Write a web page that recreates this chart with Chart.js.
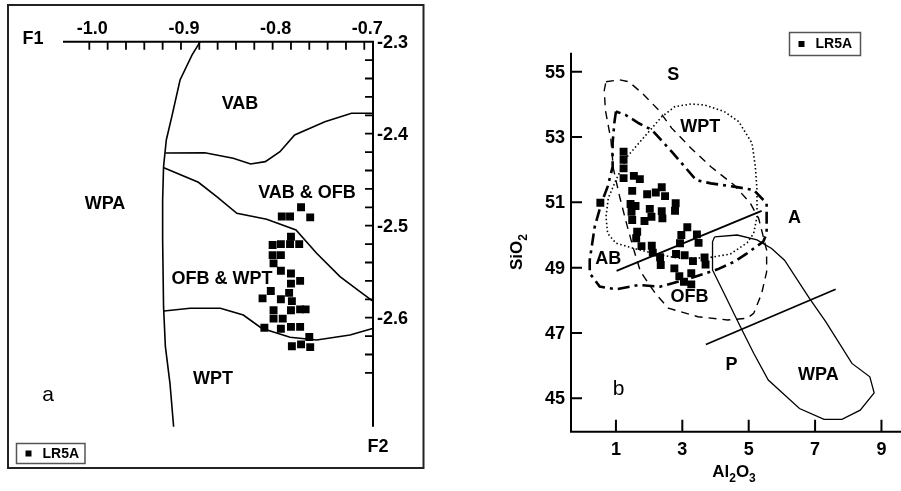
<!DOCTYPE html>
<html>
<head>
<meta charset="utf-8">
<title>LR5A discrimination diagrams</title>
<script src="https://cdn.jsdelivr.net/npm/chart.js@4.4.0/dist/chart.umd.min.js"></script>
<style>
  body { margin: 0; background: #fff; }
  #wrap { position: relative; width: 901px; height: 491px; overflow: hidden; }
  #panelA { position: absolute; left: 0; top: 0; }
  #panelB { position: absolute; left: 440px; top: 0; }
</style>
</head>
<body>
<div id="wrap">
  <canvas id="panelA" width="440" height="491"></canvas>
  <canvas id="panelB" width="461" height="491"></canvas>
</div>
<script>
const FONT = '"Liberation Sans", Arial, Helvetica, sans-serif';

// ---------- panel a : F1 - F2 ----------
const f1Labels = [-1.0, -0.9, -0.8, -0.7];
const f2Labels = [-2.3, -2.4, -2.5, -2.6];

const lr5aF1 = [-0.790, -0.781, -0.769, -0.759, -0.780, -0.800, -0.791, -0.781, -0.771, -0.800,
                -0.791, -0.799, -0.791, -0.780, -0.770, -0.780, -0.802, -0.811, -0.791, -0.782,
                -0.779, -0.799, -0.780, -0.770, -0.764, -0.799, -0.789, -0.809, -0.791, -0.780,
                -0.770, -0.760, -0.779, -0.769, -0.759];
const lr5aF2 = [-2.490, -2.490, -2.480, -2.491, -2.512, -2.521, -2.520, -2.520, -2.520, -2.532,
                -2.532, -2.541, -2.549, -2.552, -2.560, -2.563, -2.571, -2.579, -2.580, -2.573,
                -2.582, -2.592, -2.592, -2.591, -2.591, -2.601, -2.601, -2.611, -2.612, -2.610,
                -2.610, -2.621, -2.631, -2.629, -2.632];

// field boundaries
const wpaEdgeF1 = [-0.879, -0.888, -0.901, -0.910, -0.916, -0.919, -0.920, -0.920, -0.919, -0.917, -0.912, -0.908];
const wpaEdgeF2 = [-2.300, -2.3145, -2.3416, -2.3815, -2.4068, -2.4359, -2.4721, -2.5155, -2.588, -2.6315, -2.6713, -2.7185];
const vabEdgeF1 = [-0.917, -0.874, -0.843, -0.824, -0.808, -0.792, -0.776, -0.743, -0.714, -0.690];
const vabEdgeF2 = [-2.421, -2.4207, -2.4267, -2.4329, -2.4304, -2.4196, -2.4014, -2.387, -2.3778, -2.3778];
const ofbEdgeF1 = [-0.9187, -0.881, -0.861, -0.839, -0.8065, -0.7745, -0.752, -0.7265, -0.7047, -0.690];
const ofbEdgeF2 = [-2.437, -2.4528, -2.4685, -2.4865, -2.493, -2.5047, -2.53, -2.5554, -2.5717, -2.5826];
const wptEdgeF1 = [-0.9185, -0.890, -0.857, -0.832, -0.812, -0.781, -0.752, -0.7156, -0.690];
const wptEdgeF2 = [-2.5927, -2.5898, -2.5898, -2.5971, -2.6115, -2.6213, -2.6242, -2.6188, -2.6115];

// ---------- panel b : Al2O3 - SiO2 ----------
const alTicks = [1, 3, 5, 7, 9];
const siTicks = [45, 47, 49, 51, 53, 55];

const lr5aAl = [1.23, 1.23, 1.23, 1.23, 1.54, 1.72, 1.49, 1.94, 2.20, 2.38, 2.48, 0.53, 1.44, 1.59, 2.02,
                2.38, 2.80, 2.78, 1.47, 1.49, 1.86, 2.07, 2.40, 1.64, 1.61, 1.77, 2.08, 2.11, 2.33, 2.35,
                3.15, 2.97, 3.44, 2.93, 3.49, 2.81, 3.07, 3.32, 3.67, 3.70, 2.76, 2.91, 3.27, 3.05, 3.27];
const lr5aSi = [52.55, 52.30, 52.04, 51.74, 51.81, 51.71, 51.35, 51.25, 51.30, 51.46, 51.19, 50.99, 50.95, 50.89, 50.80,
                50.73, 50.97, 50.74, 50.71, 50.46, 50.43, 50.56, 50.51, 50.10, 49.90, 49.66, 49.67, 49.46, 49.32, 49.08,
                50.24, 50.00, 50.02, 49.75, 49.76, 49.42, 49.38, 49.20, 49.31, 49.10, 48.98, 48.74, 48.83, 48.57, 48.49];

const wpaFieldAl = [3.97, 4.65, 5.25, 5.69, 6.08, 6.83, 7.32, 8.11, 8.65, 8.78, 8.36, 7.81, 7.27, 6.53, 5.59, 5.15, 4.75, 4.26, 3.91, 3.91, 3.97];
const wpaFieldSi = [49.94, 50.00, 49.85, 49.59, 49.23, 48.06, 47.35, 46.07, 45.66, 45.17, 44.64, 44.36, 44.36, 44.69, 45.56, 46.38, 47.19, 48.21, 48.93, 49.79, 49.94];

const sFieldAl = [0.70, 1.10, 1.39, 1.79, 2.28, 2.68, 3.27, 3.86, 4.56, 5.05, 5.30, 5.54, 5.54, 5.39, 5.15, 4.95, 4.36,
                  3.47, 2.58, 2.19, 1.74, 1.54, 1.33, 1.10, 0.92, 0.85, 0.68, 0.65, 0.70];
const sFieldSi = [54.69, 54.75, 54.69, 54.34, 53.83, 53.27, 52.65, 52.09, 51.53, 50.97, 50.51, 49.54, 48.87, 48.21, 47.60, 47.45, 47.40,
                  47.50, 47.76, 48.21, 48.88, 49.54, 50.31, 51.22, 52.05, 52.91, 53.83, 54.44, 54.69];

const wptFieldAl = [1.34, 2.38, 2.78, 3.27, 3.67, 4.26, 4.70, 5.10, 5.20, 5.25, 5.25, 5.15, 4.95, 4.45, 3.76, 2.88,
                    2.13, 1.54, 1.00, 0.75, 0.70, 0.77, 1.00, 1.34];
const wptFieldSi = [52.40, 53.62, 53.93, 54.01, 53.98, 53.78, 53.47, 52.81, 52.09, 51.38, 50.56, 50.05, 49.76, 49.42, 49.30, 49.29,
                    49.44, 49.59, 49.75, 50.05, 50.56, 51.13, 51.68, 52.40];

const abFieldAl = [1.00, 0.95, 0.90, 0.90, 0.75, 0.56, 0.36, 0.21, 0.21, 0.51, 1.00, 1.69, 2.33, 3.17, 4.06, 4.56, 4.95,
                   5.44, 5.54, 5.54, 5.15, 4.56, 3.86, 3.42, 2.68, 2.08, 1.69, 1.30, 1.00];
const abFieldSi = [53.78, 53.42, 52.81, 52.09, 51.48, 50.97, 50.25, 49.23, 48.83, 48.42, 48.34, 48.47, 48.42, 48.65, 48.95, 49.18, 49.44,
                   49.80, 50.05, 50.97, 51.38, 51.48, 51.58, 51.68, 52.55, 53.22, 53.42, 53.67, 53.78];

const aLineAl = [1.02, 5.39];
const aLineSi = [48.90, 50.74];
const pLineAl = [3.71, 7.62];
const pLineSi = [46.65, 48.34];

const zip = (xs, ys) => xs.map((v, i) => ({ x: v, y: ys[i] }));

const points = (xs, ys) => ({
  label: 'LR5A',
  data: zip(xs, ys),
  pointStyle: 'rect',
  pointRadius: 5.6,
  pointBorderWidth: 0,
  pointBackgroundColor: '#000',
  showLine: false
});

const curve = (xs, ys, width, dash) => ({
  data: zip(xs, ys),
  showLine: true,
  borderColor: '#000',
  borderWidth: width,
  borderDash: dash || [],
  pointRadius: 0,
  fill: false,
  tension: 0,
  clip: false
});

function drawLegend(ctx, x, y, w, h) {
  ctx.save();
  ctx.strokeStyle = '#555';
  ctx.lineWidth = 1.5;
  ctx.strokeRect(x, y, w, h);
  ctx.fillStyle = '#000';
  ctx.fillRect(x + 9, y + h / 2 - 3, 6, 6);
  ctx.font = 'bold 14px ' + FONT;
  ctx.textAlign = 'left';
  ctx.textBaseline = 'middle';
  ctx.fillText('LR5A', x + 26, y + h / 2 + 0.5);
  ctx.restore();
}

// text with subscripts: parts = [[text, isSub], ...]
function drawSubText(ctx, parts, cx, baseY, size) {
  const big = 'bold ' + size + 'px ' + FONT;
  const small = 'bold ' + Math.round(size * 0.72) + 'px ' + FONT;
  let total = 0;
  parts.forEach(p => { ctx.font = p[1] ? small : big; total += ctx.measureText(p[0]).width; });
  let x = cx - total / 2;
  ctx.textAlign = 'left';
  ctx.textBaseline = 'alphabetic';
  parts.forEach(p => {
    ctx.font = p[1] ? small : big;
    ctx.fillText(p[0], x, baseY + (p[1] ? 5 : 0));
    x += ctx.measureText(p[0]).width;
  });
}

function regionText(chart, list) {
  const { ctx, scales: { x, y } } = chart;
  ctx.save();
  ctx.fillStyle = '#000';
  ctx.textAlign = 'center';
  ctx.textBaseline = 'middle';
  list.forEach(r => {
    ctx.font = (r.plain ? '21px ' : 'bold 18px ') + FONT;
    ctx.fillText(r.text, x.getPixelForValue(r.x), y.getPixelForValue(r.y));
  });
  ctx.restore();
}

const panelAFrame = {
  id: 'panelAFrame',
  afterDraw(chart) {
    const { ctx, chartArea: a, scales: { x, y } } = chart;
    ctx.save();
    ctx.strokeStyle = '#222';
    ctx.lineWidth = 2;
    ctx.strokeRect(8, 5, 415.5, 463);

    // F1 axis on top, F2 axis on the right
    ctx.strokeStyle = '#000';
    ctx.lineWidth = 2;
    ctx.beginPath();
    ctx.moveTo(a.left, a.top);
    ctx.lineTo(a.right, a.top);
    ctx.lineTo(a.right, a.bottom);
    ctx.stroke();

    ctx.lineWidth = 1.8;
    ctx.beginPath();
    for (let i = 0; i <= 15; i++) {
      const px = x.getPixelForValue(-1.0 + 0.02 * i);
      ctx.moveTo(px, a.top);
      ctx.lineTo(px, a.top + 8);
    }
    for (let i = 1; i <= 18; i++) {
      const py = y.getPixelForValue(-2.3 - 0.02 * i);
      ctx.moveTo(a.right - 8, py);
      ctx.lineTo(a.right, py);
    }
    ctx.stroke();

    ctx.fillStyle = '#000';
    ctx.font = 'bold 18px ' + FONT;
    ctx.textAlign = 'center';
    ctx.textBaseline = 'alphabetic';
    f1Labels.forEach(v => ctx.fillText(v.toFixed(1), x.getPixelForValue(v) + 3, a.top - 8));
    ctx.textAlign = 'left';
    ctx.textBaseline = 'middle';
    f2Labels.forEach(v => ctx.fillText(v.toFixed(1), a.right + 4, y.getPixelForValue(v) + 1));

    ctx.textAlign = 'center';
    ctx.fillText('F1', 33, 39);
    ctx.fillText('F2', 378, 447);
    ctx.restore();

    regionText(chart, [
      { text: 'VAB', x: -0.8356, y: -2.3677 },
      { text: 'VAB & OFB', x: -0.7625, y: -2.4645 },
      { text: 'WPA', x: -0.9829, y: -2.4764 },
      { text: 'OFB & WPT', x: -0.8552, y: -2.558 },
      { text: 'WPT', x: -0.865, y: -2.6666 },
      { text: 'a', x: -1.045, y: -2.684, plain: true }
    ]);
    drawLegend(ctx, 16.5, 443.5, 68.5, 20);
  }
};

const panelBAxes = {
  id: 'panelBAxes',
  afterDraw(chart) {
    const { ctx, chartArea: a, scales: { x, y } } = chart;
    ctx.save();
    ctx.strokeStyle = '#000';
    ctx.lineWidth = 2;
    ctx.beginPath();
    ctx.moveTo(a.left, a.top);
    ctx.lineTo(a.left, a.bottom);
    ctx.lineTo(chart.width, a.bottom);
    ctx.stroke();

    ctx.beginPath();
    siTicks.forEach(v => {
      const py = y.getPixelForValue(v);
      ctx.moveTo(a.left, py);
      ctx.lineTo(a.left + 11, py);
    });
    alTicks.forEach(v => {
      const px = x.getPixelForValue(v);
      ctx.moveTo(px, a.bottom);
      ctx.lineTo(px, a.bottom - 12);
    });
    ctx.stroke();

    ctx.fillStyle = '#000';
    ctx.font = 'bold 18px ' + FONT;
    ctx.textAlign = 'right';
    ctx.textBaseline = 'middle';
    siTicks.forEach(v => ctx.fillText(String(v), a.left - 6, y.getPixelForValue(v) + 1));
    ctx.textAlign = 'center';
    alTicks.forEach(v => ctx.fillText(String(v), x.getPixelForValue(v), a.bottom + 18));

    // axis titles
    drawSubText(ctx, [['Al', false], ['2', true], ['O', false], ['3', true]], 294, 477, 17);
    ctx.save();
    ctx.translate(76, 252);
    ctx.rotate(-Math.PI / 2);
    drawSubText(ctx, [['SiO', false], ['2', true]], 0, 6, 17);
    ctx.restore();
    ctx.restore();

    regionText(chart, [
      { text: 'S', x: 2.73, y: 54.90 },
      { text: 'WPT', x: 3.54, y: 53.29 },
      { text: 'A', x: 6.38, y: 50.51 },
      { text: 'AB', x: 0.77, y: 49.26 },
      { text: 'OFB', x: 3.22, y: 48.11 },
      { text: 'P', x: 4.48, y: 46.02 },
      { text: 'WPA', x: 7.10, y: 45.71 },
      { text: 'b', x: 1.08, y: 45.28, plain: true }
    ]);
    drawLegend(ctx, 349.5, 32.5, 71, 23);
  }
};

const common = {
  responsive: false,
  animation: false,
  events: [],
  plugins: { legend: { display: false }, tooltip: { enabled: false } }
};

new Chart(document.getElementById('panelA'), {
  type: 'scatter',
  data: {
    datasets: [
      points(lr5aF1, lr5aF2),
      curve(wpaEdgeF1, wpaEdgeF2, 1.6),
      curve(vabEdgeF1, vabEdgeF2, 1.6),
      curve(ofbEdgeF1, ofbEdgeF2, 1.6),
      curve(wptEdgeF1, wptEdgeF2, 1.6)
    ]
  },
  options: {
    ...common,
    layout: { padding: { left: 63, right: 67, top: 41.7, bottom: 64.3 } },
    scales: {
      x: { type: 'linear', display: false, min: -1.0287, max: -0.6905 },
      y: { type: 'linear', display: false, min: -2.7185, max: -2.3 }
    }
  },
  plugins: [panelAFrame]
});

new Chart(document.getElementById('panelB'), {
  type: 'scatter',
  data: {
    datasets: [
      points(lr5aAl, lr5aSi),
      curve(wpaFieldAl, wpaFieldSi, 1.3),
      curve(aLineAl, aLineSi, 1.8),
      curve(pLineAl, pLineSi, 1.8),
      curve(sFieldAl, sFieldSi, 1.4, [8, 6]),
      curve(wptFieldAl, wptFieldSi, 1.6, [1.5, 2.5]),
      curve(abFieldAl, abFieldSi, 2.6, [12, 5, 3, 5])
    ]
  },
  options: {
    ...common,
    layout: { padding: { left: 131, right: 0, top: 52.7, bottom: 59.3 } },
    scales: {
      x: { type: 'linear', display: false, min: -0.354, max: 9.42 },
      y: { type: 'linear', display: false, min: 43.98, max: 55.58 }
    }
  },
  plugins: [panelBAxes]
});
</script>
</body>
</html>
